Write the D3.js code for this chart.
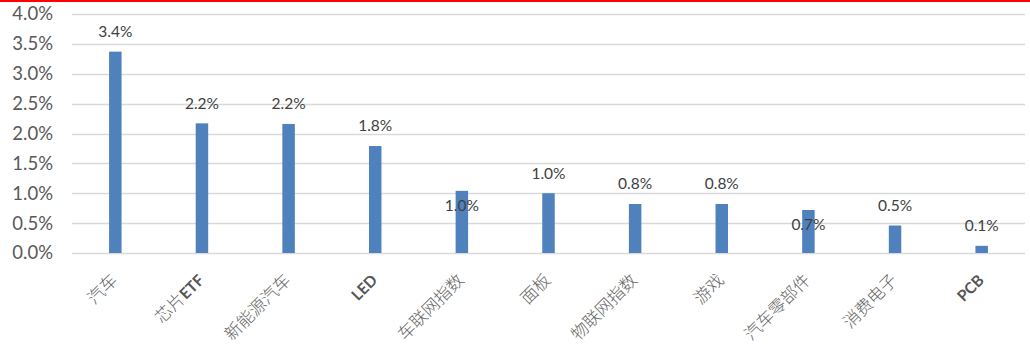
<!DOCTYPE html>
<html>
<head>
<meta charset="utf-8">
<script src="https://cdn.jsdelivr.net/npm/d3@7"></script>
<style>
  body { margin: 0; background: #fff; }
  svg { display: block; }
</style>
</head>
<body>
<svg id="chart"></svg>
<script>
// categories and values (percent)
const categories = ['汽车', '芯片ETF', '新能源汽车', 'LED', '车联网指数', '面板', '物联网指数', '游戏', '汽车零部件', '消费电子', 'PCB']
const values = [3.37, 2.17, 2.16, 1.79, 1.04, 1.0, 0.82, 0.82, 0.72, 0.46, 0.12]
const yTicks = [0, 0.5, 1.0, 1.5, 2.0, 2.5, 3.0, 3.5, 4.0]
// Excel dropped these labels inside the bar
const insideLabels = ['车联网指数', '汽车零部件']

const width = 1030
const height = 344
const margin = { left: 72, right: 1025, top: 14, bottom: 253 }

let svg = d3.select('#chart')
  .attr('width', width)
  .attr('height', height)

svg.append('rect')
  .attr('x', 0).attr('y', 0)
  .attr('width', width).attr('height', 2)
  .attr('fill', '#ff0000')

let x = d3.scaleBand()
  .domain(categories)
  .range([margin.left, margin.right])
  .paddingInner(0.856)
  .paddingOuter(0.428)

let y = d3.scaleLinear()
  .domain([0, 4])
  .range([margin.bottom, margin.top])

// gridlines
svg.append('g')
  .selectAll('line')
  .data(yTicks)
  .enter().append('line')
  .attr('x1', margin.left)
  .attr('x2', margin.right)
  .attr('y1', d => Math.round(y(d)) + 0.5)
  .attr('y2', d => Math.round(y(d)) + 0.5)
  .attr('stroke', '#d9d9d9')
  .attr('stroke-width', 1.5)

// y axis labels
svg.append('g')
  .selectAll('text')
  .data(yTicks)
  .enter().append('text')
  .attr('x', 53)
  .attr('y', d => y(d))
  .attr('dy', '0.35em')
  .attr('text-anchor', 'end')
  .attr('font-family', 'Lato, "Open Sans", sans-serif')
  .attr('font-size', 18.5)
  .attr('fill', '#595959')
  .text(d => d.toFixed(1) + '%')

// bars
svg.append('g')
  .selectAll('rect')
  .data(categories)
  .enter().append('rect')
  .attr('x', d => x(d))
  .attr('width', x.bandwidth())
  .attr('y', (d, i) => y(values[i]))
  .attr('height', (d, i) => y(0) - y(values[i]))
  .attr('fill', '#4f81bd')

// data labels
svg.append('g')
  .selectAll('text')
  .data(categories)
  .enter().append('text')
  .attr('x', d => x(d) + x.bandwidth() / 2)
  .attr('y', (d, i) => insideLabels.includes(d) ? y(values[i]) + 15 : y(values[i]) - 20)
  .attr('dy', '0.35em')
  .attr('text-anchor', 'middle')
  .attr('font-family', 'Lato, "Open Sans", sans-serif')
  .attr('font-size', 15.5)
  .attr('fill', '#404040')
  .text((d, i) => values[i].toFixed(1) + '%')

// category labels, rotated; latin runs a bit heavier like the original
let catLabels = svg.append('g')
  .selectAll('text')
  .data(categories)
  .enter().append('text')
  .attr('transform', d => `translate(${x(d) + x.bandwidth() / 2 - 1},${margin.bottom + 24}) rotate(-45)`)
  .attr('text-anchor', 'end')
  .attr('dy', '0.35em')
  .attr('font-family', '"Noto Sans CJK SC", sans-serif')
  .attr('font-size', 17)

catLabels.selectAll('tspan')
  .data(d => d.match(/[A-Za-z]+|[^A-Za-z]+/g))
  .enter().append('tspan')
  .attr('font-family', s => /[A-Za-z]/.test(s) ? 'Lato, sans-serif' : null)
  .attr('font-size', s => /[A-Za-z]/.test(s) ? 15.5 : null)
  .attr('font-weight', s => /[A-Za-z]/.test(s) ? 700 : 300)
  .attr('fill', s => /[A-Za-z]/.test(s) ? '#555555' : '#666666')
  .text(s => s)
</script>
</body>
</html>
